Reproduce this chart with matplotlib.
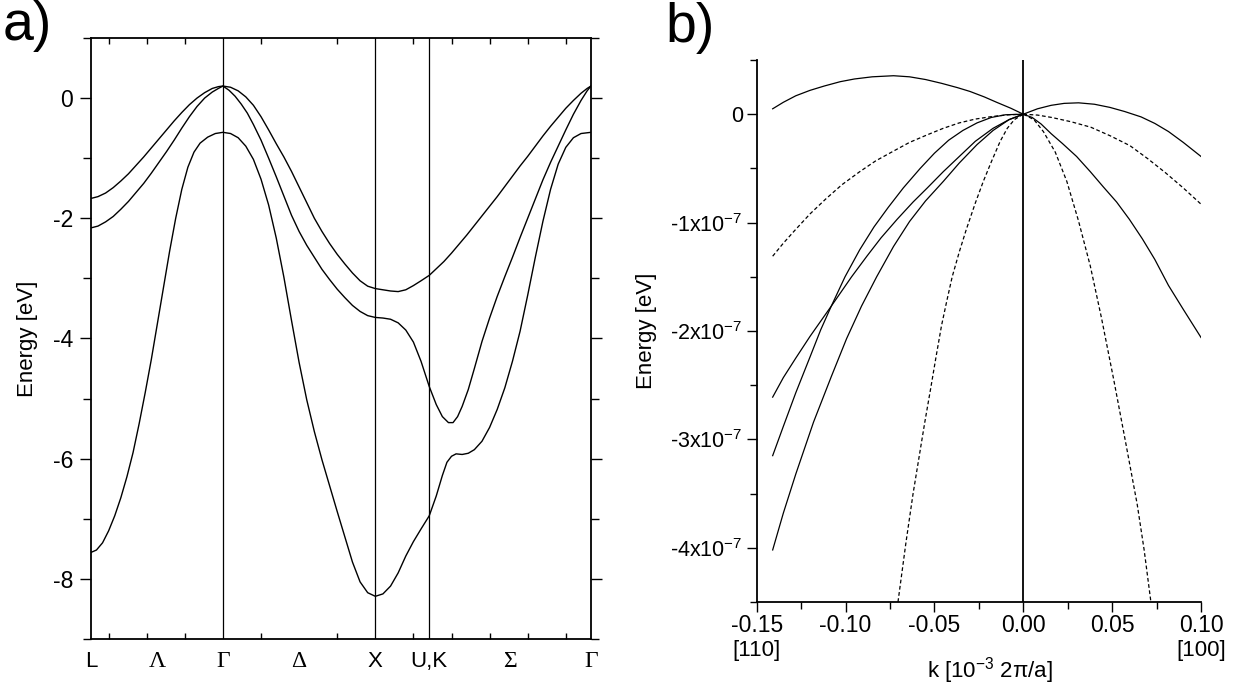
import numpy as np
import matplotlib.pyplot as plt
from matplotlib.ticker import MultipleLocator
from matplotlib.transforms import blended_transform_factory

plt.rcParams['font.family'] = ['Liberation Sans', 'DejaVu Sans']
plt.rcParams['mathtext.fontset'] = 'custom'
plt.rcParams['mathtext.rm'] = 'Liberation Sans'
plt.rcParams['mathtext.it'] = 'Liberation Sans:italic'
plt.rcParams['axes.unicode_minus'] = False

# ---- panel a: band structure along L-G-X-U,K-G (k in 2pi/a) ----
sym_k = [-0.866, 0.0, 1.0, 1.354, 2.415]
sym_lines = [0.0, 1.0, 1.354]
path_labels = ['L', 'Λ', 'Γ', 'Δ', 'X', 'U,K', 'Σ', 'Γ']
path_label_k = [-0.866, -0.433, 0.0, 0.5, 1.0, 1.354, 1.885, 2.415]

band1_k = [-0.866, -0.82, -0.77, -0.72, -0.67, -0.62, -0.57, -0.52, -0.47, -0.42, -0.37, -0.32, -0.27, -0.22,
           -0.17, -0.12, -0.07, -0.03, 0.0,
           0.05, 0.10, 0.15, 0.20, 0.25, 0.30, 0.35, 0.40, 0.45, 0.50, 0.55, 0.60, 0.65, 0.70, 0.75, 0.80, 0.85,
           0.90, 0.95, 1.0,
           1.05, 1.10, 1.15, 1.20, 1.25, 1.30, 1.354, 1.40, 1.45, 1.50, 1.55, 1.60, 1.65, 1.70, 1.75, 1.80, 1.85,
           1.90, 1.95, 2.00, 2.05, 2.10, 2.15, 2.20, 2.25, 2.30, 2.35, 2.39, 2.415]
band1_E = [-1.67, -1.64, -1.58, -1.49, -1.38, -1.26, -1.12, -0.98, -0.83, -0.68, -0.53, -0.38, -0.24, -0.11,
           0.0, 0.09, 0.16, 0.19, 0.20,
           0.18, 0.12, 0.02, -0.12, -0.31, -0.53, -0.76, -0.98, -1.22, -1.48, -1.74, -2.0, -2.22, -2.42, -2.60,
           -2.76, -2.91, -3.04, -3.13, -3.17,
           -3.19, -3.21, -3.22, -3.19, -3.12, -3.04, -2.95, -2.84, -2.72, -2.58, -2.43, -2.28, -2.12, -1.96, -1.80,
           -1.64, -1.47, -1.30, -1.13, -0.97, -0.80, -0.63, -0.47, -0.32, -0.17, -0.04, 0.08, 0.16, 0.20]

band2_k = [-0.866, -0.82, -0.77, -0.72, -0.67, -0.62, -0.57, -0.52, -0.47, -0.42, -0.37, -0.32, -0.27, -0.22,
           -0.17, -0.12, -0.07, -0.03, 0.0,
           0.04, 0.08, 0.12, 0.16, 0.20, 0.25, 0.30, 0.35, 0.40, 0.45, 0.50, 0.55, 0.60, 0.65, 0.70, 0.75, 0.80,
           0.85, 0.90, 0.95, 1.0,
           1.05, 1.10, 1.15, 1.20, 1.25, 1.30, 1.354, 1.40, 1.44, 1.48, 1.51, 1.54, 1.57, 1.61, 1.65, 1.70, 1.75,
           1.80, 1.85, 1.90, 1.95, 2.00, 2.05, 2.10, 2.15, 2.20, 2.25, 2.30, 2.35, 2.39, 2.415]
band2_E = [-2.16, -2.13, -2.06, -1.97, -1.85, -1.72, -1.57, -1.42, -1.25, -1.07, -0.89, -0.70, -0.50, -0.31,
           -0.14, 0.0, 0.10, 0.16, 0.20,
           0.13, 0.03, -0.10, -0.25, -0.44, -0.70, -1.0, -1.31, -1.63, -1.95, -2.22, -2.45, -2.65, -2.85, -3.02,
           -3.18, -3.32, -3.45, -3.55, -3.62, -3.65,
           -3.66, -3.68, -3.74, -3.86, -4.06, -4.38, -4.80, -5.10, -5.30, -5.40, -5.40, -5.30, -5.13, -4.85, -4.50,
           -4.05, -3.66, -3.30, -2.97, -2.65, -2.32, -2.0, -1.68, -1.36, -1.07, -0.80, -0.53, -0.27, -0.04, 0.12,
           0.20]

band3_k = [-0.866, -0.83, -0.79, -0.75, -0.71, -0.67, -0.63, -0.59, -0.55, -0.51, -0.47, -0.43, -0.39, -0.35,
           -0.31, -0.27, -0.23, -0.19, -0.15, -0.10, -0.05, 0.0,
           0.05, 0.10, 0.15, 0.20, 0.25, 0.30, 0.35, 0.40, 0.45, 0.50, 0.55, 0.60, 0.65, 0.70, 0.75, 0.80, 0.85,
           0.90, 0.95, 1.0,
           1.05, 1.10, 1.15, 1.20, 1.25, 1.30, 1.354, 1.40, 1.44, 1.47, 1.50, 1.53, 1.57, 1.61, 1.65, 1.70, 1.75,
           1.80, 1.85, 1.90, 1.95, 2.00, 2.05, 2.10, 2.15, 2.20, 2.25, 2.30, 2.35, 2.415]
band3_E = [-7.56, -7.52, -7.40, -7.20, -6.95, -6.65, -6.30, -5.90, -5.42, -4.90, -4.35, -3.75, -3.15, -2.55,
           -2.0, -1.52, -1.15, -0.90, -0.75, -0.65, -0.59, -0.57,
           -0.59, -0.66, -0.80, -1.02, -1.35, -1.78, -2.33, -2.98, -3.70, -4.40, -5.02, -5.55, -6.02, -6.45,
           -6.88, -7.30, -7.72, -8.05, -8.23, -8.29,
           -8.25, -8.12, -7.90, -7.62, -7.38, -7.17, -6.95, -6.62, -6.28, -6.06, -5.96, -5.92, -5.93, -5.91,
           -5.85, -5.71, -5.48, -5.18, -4.82, -4.38, -3.88, -3.28, -2.65, -2.05, -1.52, -1.10, -0.82, -0.66,
           -0.59, -0.57]

# ---- panel b: dispersion near Gamma (k in 1e-3 2pi/a, E in 1e-7 eV) ----
top_left_k = [-0.141, -0.135, -0.128, -0.12, -0.112, -0.103, -0.095, -0.085, -0.073, -0.064, -0.055, -0.046,
              -0.037, -0.030, -0.022, -0.015, -0.007, 0.0]
top_left_E = [0.05, 0.11, 0.17, 0.22, 0.26, 0.30, 0.325, 0.345, 0.355, 0.345, 0.32, 0.285, 0.245, 0.21, 0.16,
              0.11, 0.055, 0.0]
top_right_k = [0.0, 0.008, 0.0157, 0.023, 0.0311, 0.040, 0.0487, 0.057, 0.0663, 0.074, 0.0817, 0.090, 0.1]
top_right_E = [0.0, 0.05, 0.082, 0.100, 0.105, 0.092, 0.063, 0.025, -0.025, -0.085, -0.16, -0.26, -0.39]

sa_k = [-0.141, -0.135, -0.128, -0.120, -0.114, -0.108, -0.0966, -0.088, -0.080, -0.071, -0.062, -0.054, -0.045,
        -0.036, -0.027, -0.017, -0.008, 0.0]
sa_E = [-2.61, -2.43, -2.25, -2.05, -1.91, -1.77, -1.5, -1.31, -1.14, -0.97, -0.81, -0.68, -0.53, -0.39, -0.25,
        -0.13, -0.05, 0.0]
sb_k = [-0.141, -0.135, -0.128, -0.120, -0.114, -0.108, -0.1003, -0.092, -0.084, -0.076, -0.0675, -0.058, -0.050,
        -0.042, -0.034, -0.026, -0.018, -0.010, 0.0]
sb_E = [-3.15, -2.88, -2.57, -2.24, -1.99, -1.77, -1.5, -1.25, -1.04, -0.86, -0.68, -0.50, -0.36, -0.24, -0.15,
        -0.08, -0.03, -0.005, 0.0]
sc_k = [-0.141, -0.135, -0.128, -0.118, -0.108, -0.0994, -0.091, -0.0825, -0.073, -0.064, -0.055, -0.045, -0.036,
        -0.026, -0.017, -0.008, 0.0]
sc_E = [-4.02, -3.68, -3.32, -2.84, -2.42, -2.07, -1.77, -1.5, -1.22, -0.99, -0.80, -0.62, -0.45, -0.28, -0.15,
        -0.05, 0.0]
steep_right_k = [0.0, 0.005, 0.010, 0.0157, 0.022, 0.030, 0.0377, 0.045, 0.0525, 0.0597, 0.067, 0.074, 0.0817,
                 0.090, 0.1]
steep_right_E = [0.0, -0.03, -0.09, -0.18, -0.27, -0.39, -0.53, -0.67, -0.81, -0.97, -1.15, -1.34, -1.58, -1.8,
                 -2.06]

dg_left_k = [-0.141, -0.135, -0.129, -0.120, -0.111, -0.102, -0.092, -0.083, -0.073, -0.064, -0.054, -0.045,
             -0.036, -0.027, -0.017, -0.008, 0.0]
dg_left_E = [-1.31, -1.19, -1.08, -0.92, -0.78, -0.65, -0.53, -0.43, -0.34, -0.26, -0.19, -0.13, -0.08, -0.045,
             -0.02, -0.005, 0.0]
dg_right_k = [0.0, 0.008, 0.016, 0.027, 0.038, 0.049, 0.06, 0.07, 0.08, 0.09, 0.1]
dg_right_E = [0.0, -0.008, -0.03, -0.07, -0.12, -0.20, -0.29, -0.41, -0.54, -0.68, -0.83]
ds_left_k = [-0.0705, -0.066, -0.062, -0.059, -0.0555, -0.052, -0.049, -0.046, -0.043, -0.040, -0.036, -0.032,
             -0.027, -0.0225, -0.018, -0.013, -0.009, -0.005, 0.0]
ds_left_E = [-4.5, -3.95, -3.50, -3.2, -2.85, -2.52, -2.23, -1.95, -1.72, -1.5, -1.27, -1.06, -0.82, -0.62, -0.44,
             -0.25, -0.13, -0.05, 0.0]
ds_right_k = [0.0, 0.006, 0.0113, 0.018, 0.0245, 0.031, 0.0377, 0.044, 0.0509, 0.0575, 0.0641, 0.068, 0.0718]
ds_right_E = [0.0, -0.05, -0.16, -0.35, -0.62, -0.98, -1.40, -1.88, -2.45, -3.02, -3.6, -4.02, -4.5]

fig = plt.figure(figsize=(12.36, 6.89), dpi=100)

# ---------------- panel a ----------------
ax = fig.add_axes([0.0736, 0.0726, 0.4045, 0.8723])
for kk, ee in [(band1_k, band1_E), (band2_k, band2_E), (band3_k, band3_E)]:
    ax.plot(kk, ee, color='black', lw=1.0)
for xv in sym_lines:
    ax.axvline(xv, color='black', lw=0.9)
ax.set_xlim(sym_k[0], sym_k[-1])
ax.set_ylim(-9, 1)
ax.set_xticks(path_label_k)
ax.set_xticklabels(path_labels, fontsize=16)
for lab in ax.get_xticklabels():
    if lab.get_text() in ('Λ', 'Γ', 'Δ', 'Σ'):
        lab.set_fontfamily('Liberation Serif')
        lab.set_fontsize(17)
ax.xaxis.set_minor_locator(MultipleLocator(0.25))
ax.tick_params(axis='x', which='major', length=0, pad=9)
ax.tick_params(axis='x', which='minor', direction='in', top=True, bottom=True, length=4, width=1)
ax.set_yticks([0, -2, -4, -6, -8])
ax.set_yticklabels(['0', '-2', '-4', '-6', '-8'], fontsize=16.5)
ax.yaxis.set_minor_locator(MultipleLocator(1))
ax.tick_params(axis='y', which='both', direction='out', left=True, right=True, width=1)
ax.tick_params(axis='y', which='major', length=8, pad=5)
ax.tick_params(axis='y', which='minor', length=6)
ax.set_ylabel('Energy [eV]', fontsize=16)
ax.yaxis.set_label_coords(-0.105, 0.5)
for sp in ax.spines.values():
    sp.set_linewidth(1.3)

# ---------------- panel b ----------------
bx = fig.add_axes([0.6122, 0.1263, 0.3595, 0.7866])
sc = 1e-7
solid = [(top_left_k, top_left_E), (top_right_k, top_right_E), (sa_k, sa_E), (sb_k, sb_E),
         (sc_k, sc_E), (steep_right_k, steep_right_E)]
dashed = [(dg_left_k, dg_left_E), (dg_right_k, dg_right_E), (ds_left_k, ds_left_E), (ds_right_k, ds_right_E)]
for kk, ee in solid:
    bx.plot(kk, np.array(ee) * sc, color='black', lw=0.9)
for kk, ee in dashed:
    bx.plot(kk, np.array(ee) * sc, color='black', lw=0.9, linestyle=(0, (3, 2)))
bx.axvline(0.0, color='black', lw=1.3)
bx.set_xlim(-0.15, 0.10)
bx.set_ylim(-4.5e-7, 0.5e-7)
bx.spines['top'].set_visible(False)
bx.spines['right'].set_visible(False)
for sp in ('left', 'bottom'):
    bx.spines[sp].set_linewidth(1.3)

xt = [-0.15, -0.10, -0.05, 0.0, 0.05, 0.10]
bx.set_xticks(xt)
bx.set_xticklabels(['%.2f' % v for v in xt], fontsize=16.5)
bx.xaxis.set_minor_locator(MultipleLocator(0.025))
yt = [0, -1e-7, -2e-7, -3e-7, -4e-7]
bx.set_yticks(yt)
bx.set_yticklabels(['0', '-1x10$^{-7}$', '-2x10$^{-7}$', '-3x10$^{-7}$', '-4x10$^{-7}$'], fontsize=15.5)
bx.yaxis.set_minor_locator(MultipleLocator(0.5e-7))
bx.tick_params(which='both', direction='out', width=1)
bx.tick_params(axis='y', which='major', length=7, pad=3)
bx.tick_params(axis='x', which='major', length=7, pad=2)
bx.tick_params(which='minor', length=5)
bx.set_ylabel('Energy [eV]', fontsize=16)
bx.yaxis.set_label_coords(-0.225, 0.5)

tr = blended_transform_factory(bx.transData, bx.transAxes)
bx.text(-0.15, -0.09, '[110]', transform=tr, ha='center', va='center', fontsize=16)
bx.text(0.10, -0.09, '[100]', transform=tr, ha='center', va='center', fontsize=16)
bx.text(0.525, -0.127, 'k [10$^{-3}$ 2π/a]', transform=bx.transAxes, ha='center', va='center', fontsize=16)

fig.text(0.002, 0.925, 'a)', fontsize=40, ha='left', va='bottom')
fig.text(0.538, 0.922, 'b)', fontsize=40, ha='left', va='bottom')

fig.savefig('out.png', dpi=100)
